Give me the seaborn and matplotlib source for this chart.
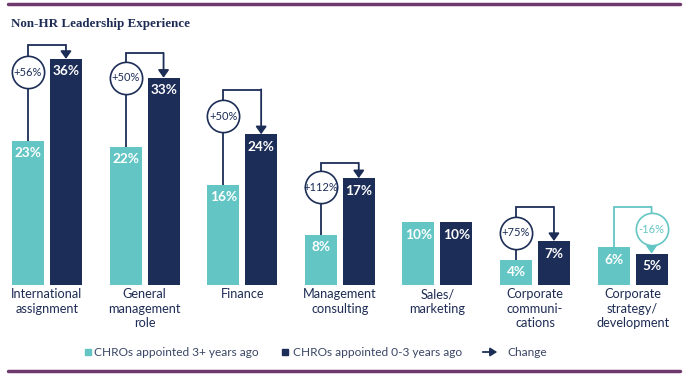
import matplotlib
matplotlib.use("Agg")
from matplotlib import pyplot as plt
from matplotlib.lines import Line2D
import seaborn as sns
import pandas as pd

# 001 : Data
categories = ['International assignment', 'General management role', 'Finance',
              'Management consulting', 'Sales/marketing', 'Corporate communications',
              'Corporate strategy/development']
tick_labels = ['International\nassignment', 'General\nmanagement\nrole', 'Finance',
               'Management\nconsulting', 'Sales/\nmarketing', 'Corporate\ncommuni-\ncations',
               'Corporate\nstrategy/\ndevelopment']
older = [23, 22, 16, 8, 10, 4, 6]      # CHROs appointed 3+ years ago
newer = [36, 33, 24, 17, 10, 7, 5]     # CHROs appointed 0-3 years ago
change = ['+56%', '+50%', '+50%', '+112%', None, '+75%', '-16%']
series = ['CHROs appointed 3+ years ago', 'CHROs appointed 0-3 years ago']

# connector layout (bracket height / circle height, in % units)
bracket_top = [38.2, 36.9, 31.1, 19.4, None, 12.4, 12.4]
circle_y = [33.9, 33.0, 26.9, 15.6, None, 8.3, 8.9]

teal = '#64c6c4'
navy = '#1c2d57'
purple = '#6e3a6e'
label_col = '#1f2d55'

df = pd.DataFrame({
    'category': categories * 2,
    'group': [series[0]] * len(categories) + [series[1]] * len(categories),
    'value': older + newer,
})

# 002 : Plot
sns.set_style('white')
plt.rcParams['font.family'] = ['Lato', 'DejaVu Sans']

fig = plt.figure(figsize=(7, 3.76), dpi=100)
px = 6.28  # pixels per percent
ax = fig.add_axes([0, 91 / 376, 1, 255 / 376])
sns.barplot(data=df, x='category', y='value', hue='group', order=categories,
            hue_order=series, palette=[teal, navy], width=0.777, gap=0.157,
            linewidth=0, saturation=1, legend=False, ax=ax)
ax.set_xlim(-47 / 97.6, 653 / 97.6)
ax.set_ylim(0, 255 / px)
sns.despine(ax=ax, left=True, bottom=True)
ax.set_yticks([])
ax.set_xticks(range(len(categories)))
ax.set_xticklabels(tick_labels, fontsize=9.2, color=label_col, linespacing=1.25)
ax.tick_params(axis='x', length=0, pad=2.5)
ax.set_xlabel('')
ax.set_ylabel('')

teal_bars = ax.containers[0]
navy_bars = ax.containers[1]

# value labels
for bars, vals in [(teal_bars, older), (navy_bars, newer)]:
    for b, v in zip(bars, vals):
        ax.text(b.get_x() + b.get_width() / 2, v - 12.5 / px, f'{v}%', ha='center', va='center',
                color='white', fontsize=9.8, fontweight='bold')

# change connectors
for i in range(len(categories)):
    if change[i] is None:
        continue
    tb, nb = teal_bars[i], navy_bars[i]
    xt = tb.get_x() + tb.get_width() / 2
    xn = nb.get_x() + nb.get_width() / 2
    top = bracket_top[i]
    up = newer[i] >= older[i]
    col = navy if up else teal
    ax.plot([xt, xt, xn], [older[i], top, top], color=col, lw=1.3, zorder=4,
            solid_capstyle='butt', solid_joinstyle='miter')
    ax.annotate('', xy=(xn, newer[i]), xytext=(xn, top + 0.05),
                arrowprops=dict(arrowstyle='-|>,head_length=0.45,head_width=0.32',
                                color=col, lw=1.3, shrinkA=0, shrinkB=0), zorder=4)
    cx = xt if up else xn
    ax.scatter([cx], [circle_y[i]], s=540, facecolor='white', edgecolor=col,
               linewidth=1.2, zorder=5)
    ax.text(cx, circle_y[i], change[i], ha='center', va='center', color=col,
            fontsize=8, zorder=6)

# title
fig.text(11 / 700, 1 - 24 / 376, 'Non-HR Leadership Experience', ha='left', va='center',
         fontfamily='Liberation Serif', fontweight='bold', fontsize=9.4, color=label_col)

# purple rules
for yp in [4, 371]:
    fig.add_artist(Line2D([8 / 700, 680 / 700], [1 - yp / 376] * 2, color=purple, lw=2.5))

# legend
ly = 1 - 352 / 376
fig.add_artist(Line2D([88.5 / 700], [ly], marker='s', ms=4.5, color=teal, lw=0))
fig.text(94 / 700, ly, series[0], ha='left', va='center', fontsize=8.6, color='#3a4666')
fig.add_artist(Line2D([285 / 700], [ly], marker='s', ms=4.5, color=navy, lw=0))
fig.text(293 / 700, ly, series[1], ha='left', va='center', fontsize=8.6, color='#3a4666')
fig.add_artist(matplotlib.patches.FancyArrowPatch(
    (480 / 700, ly), (500 / 700, ly), transform=fig.transFigure,
    arrowstyle='-|>,head_length=4,head_width=2.5', color=navy, lw=1.3))
fig.text(507 / 700, ly, 'Change', ha='left', va='center', fontsize=8.6, color='#3a4666')

fig.savefig('out.png', dpi=100)
